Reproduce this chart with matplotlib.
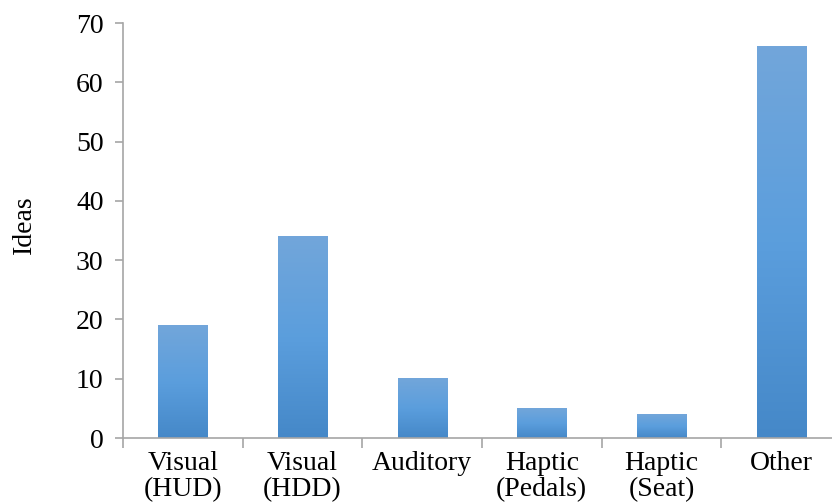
import matplotlib.pyplot as plt
from matplotlib.colors import LinearSegmentedColormap
import numpy as np

plt.rcParams['font.family'] = ['Liberation Serif', 'DejaVu Serif']

categories = ['Visual\n(HUD)', 'Visual\n(HDD)', 'Auditory', 'Haptic\n(Pedals)', 'Haptic\n(Seat)', 'Other']
ideas = [19, 34, 10, 5, 4, 66]

# light at the top, brighter mid, darker at the base
grad = LinearSegmentedColormap.from_list('bar', ['#4588C8', '#5B9EDD', '#72A6DA'])

fig = plt.figure(figsize=(8.32, 5.03), dpi=100)
ax = fig.add_axes([0.1478, 0.1292, 0.863, 0.825])

x = np.arange(len(categories))
width = 0.41
bars = ax.bar(x, ideas, width=width, color='none', edgecolor='none')
g = np.linspace(0, 1, 256).reshape(-1, 1)
for b in bars:
    x0, w, h = b.get_x(), b.get_width(), b.get_height()
    ax.imshow(g, cmap=grad, origin='lower', aspect='auto',
              extent=[x0, x0 + w, 0, h], zorder=2)

ax.set_xlim(-0.5, len(categories) - 0.5)
ax.set_ylim(0, 70)
ax.set_yticks(np.arange(0, 71, 10))

ax.set_xticks(x)
ax.set_xticklabels(categories, fontsize=20, linespacing=1.1)
ax.set_xticks(np.arange(-0.5, len(categories), 1), minor=True)
ax.tick_params(axis='x', which='major', length=0, pad=9)
ax.tick_params(axis='x', which='minor', length=7, color='#A6A6A6', width=1.2)
ax.tick_params(axis='y', length=6, color='#A6A6A6', width=1.2, pad=8, labelsize=20)

for s in ['top', 'right']:
    ax.spines[s].set_visible(False)
for s in ['left', 'bottom']:
    ax.spines[s].set_color('#A6A6A6')
    ax.spines[s].set_linewidth(1.2)

fig.text(24 / 832, 1 - 225 / 503, 'Ideas', fontsize=20, rotation=90,
         ha='center', va='center')

fig.savefig('out.png', dpi=100)
